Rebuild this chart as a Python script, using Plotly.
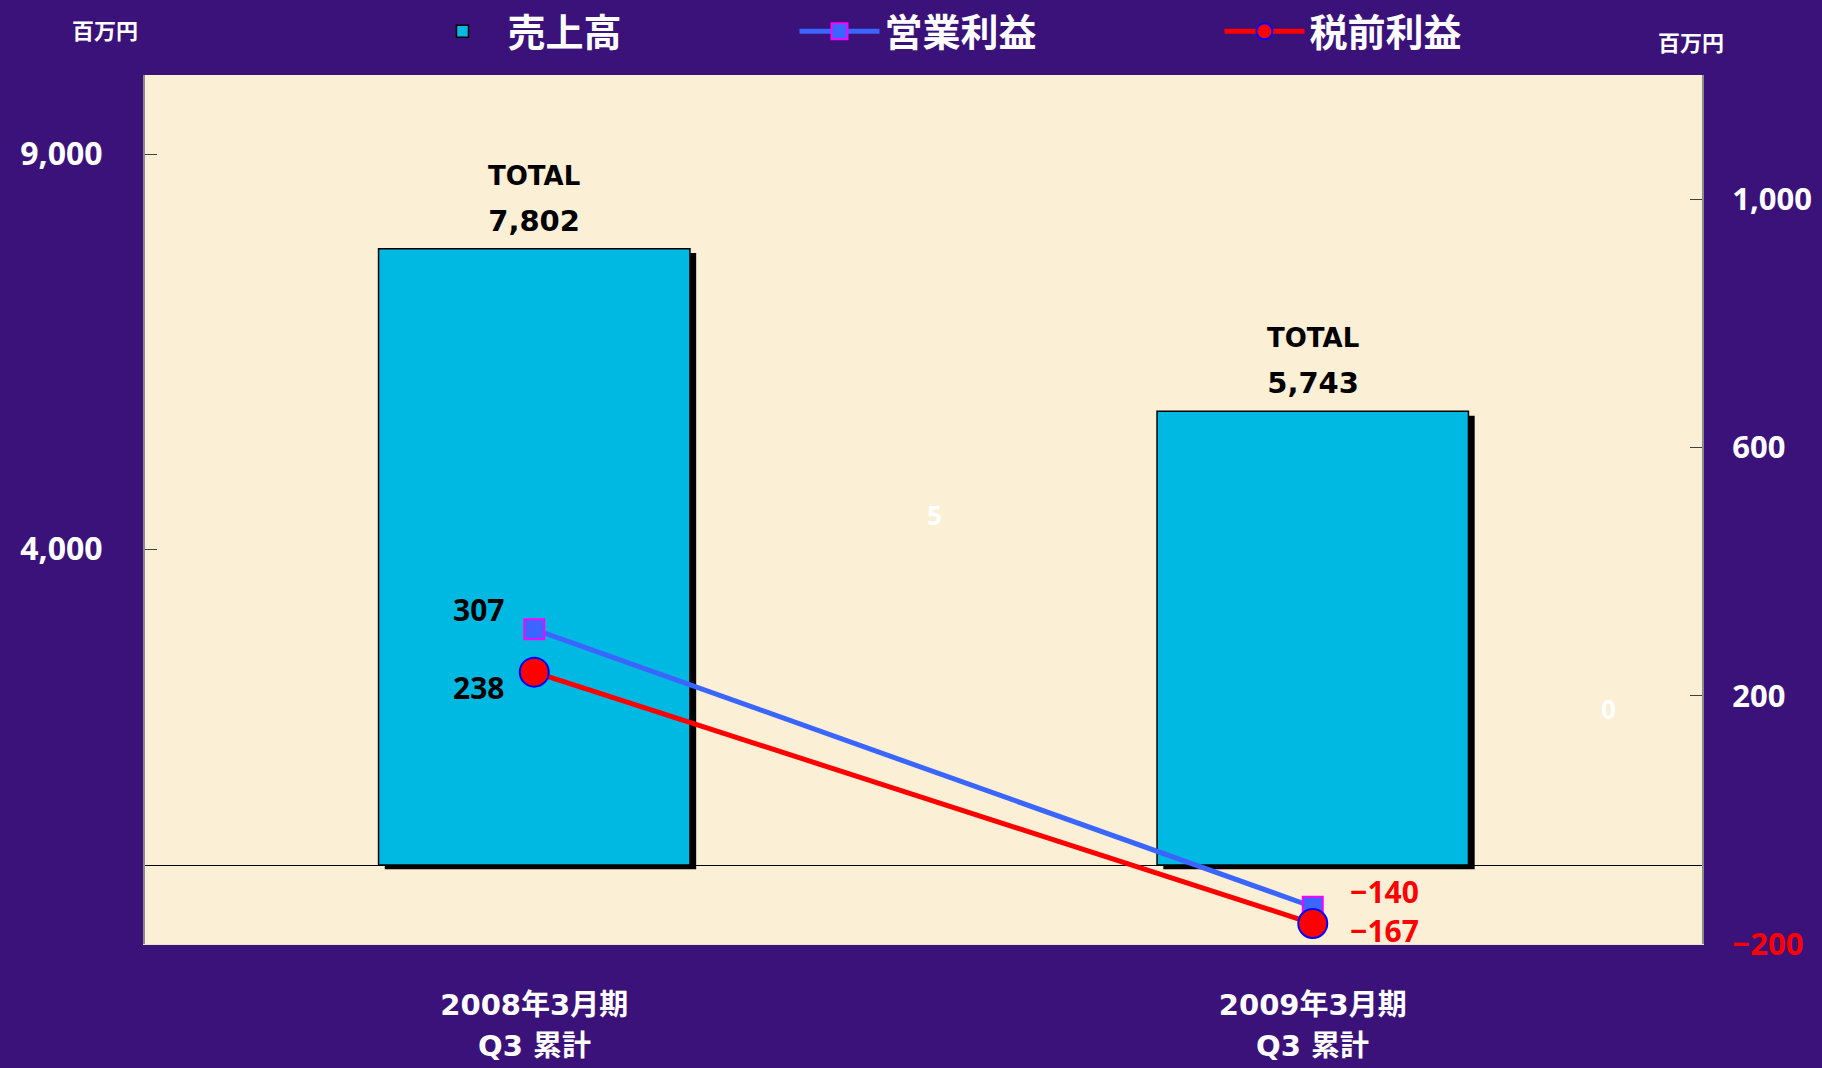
import plotly.graph_objects as go

categories = ["2008年3月期", "2009年3月期"]
sub_labels = ["Q3 累計", "Q3 累計"]
sales = [7802, 5743]
op_profit = [307, -140]
pretax_profit = [238, -167]
left_ticks = [4000, 9000]
right_ticks = [-200, 200, 600, 1000]

FONT = "Noto Sans CJK JP"
NUM_FONT = "Noto Sans"
WIDE_FONT = "DejaVu Sans, Noto Sans CJK JP"
BAR_W = 0.4


def fmt(v):
    s = f"{abs(v):,}"
    return ("−" + s) if v < 0 else s


fig = go.Figure()

# shadow behind bars
fig.add_trace(go.Bar(
    x=categories, y=sales, base=[-55] * len(sales), width=BAR_W, offset=-BAR_W / 2 + 0.008,
    marker=dict(color="black", line=dict(width=0)), showlegend=False, hoverinfo="skip",
))
# main bars
fig.add_trace(go.Bar(
    x=categories, y=sales, width=BAR_W, name="売上高", legendwidth=282,
    marker=dict(color="#00b9e3", line=dict(color="black", width=1.5)),
))

fig.add_trace(go.Scatter(
    x=categories, y=op_profit, yaxis="y2", name="営業利益", mode="lines+markers", legendwidth=330,
    line=dict(color="#3a66ff", width=5),
    marker=dict(symbol="square", size=20, color="#3a66ff", line=dict(color="#ff00ff", width=2)),
    cliponaxis=False,
))
fig.add_trace(go.Scatter(
    x=categories, y=pretax_profit, yaxis="y2", name="税前利益", mode="lines+markers", legendwidth=300,
    line=dict(color="#ff0000", width=5),
    marker=dict(symbol="circle", size=29, color="#ff0000", line=dict(color="#0000ff", width=2)),
    cliponaxis=False,
))

right_text = [(f"<span style='color:#ff0000'>{fmt(v)}</span>" if v < 0 else fmt(v)) for v in right_ticks]

annotations = []
# TOTAL labels above bars
for c, v in zip(categories, sales):
    annotations.append(dict(
        x=c, y=v, xref="x", yref="y", yanchor="bottom", yshift=9, showarrow=False,
        text=f"<span style='font-size:26px'>TOTAL</span><br><span style='font-size:29px'>{fmt(v)}</span>",
        font=dict(size=35, color="black", family="DejaVu Sans"),
    ))
# value labels for the profit lines
op_shift = [(-56, 20), (72, 15)]
pt_shift = [(-56, -15), (72, -7)]
for series, shifts in ((op_profit, op_shift), (pretax_profit, pt_shift)):
    for c, v, (dx, dy) in zip(categories, series, shifts):
        annotations.append(dict(
            x=c, y=v, xref="x", yref="y2", xshift=dx, yshift=dy, showarrow=False,
            xanchor="center", yanchor="middle", text=fmt(v),
            font=dict(size=30, color=("black" if v >= 0 else "red"), family=NUM_FONT),
        ))
# second line of the category labels
for c, s in zip(categories, sub_labels):
    annotations.append(dict(
        x=c, y=-0.1175, xref="x", yref="paper", xanchor="center", yanchor="middle",
        showarrow=False, text=s, font=dict(size=29, color="white", family=WIDE_FONT),
    ))
annotations += [
    dict(text="百万円", xref="paper", yref="paper", x=-0.0257, y=1.053, xanchor="center", yanchor="middle",
         showarrow=False, font=dict(size=22, color="white", family=FONT)),
    dict(text="百万円", xref="paper", yref="paper", x=0.993, y=1.039, xanchor="center", yanchor="middle",
         showarrow=False, font=dict(size=22, color="white", family=FONT)),
    dict(text="5", xref="paper", yref="paper", x=0.507, y=0.494, xanchor="center", yanchor="middle",
         showarrow=False, font=dict(size=26, color="white", family=NUM_FONT)),
    dict(text="0", xref="paper", yref="paper", x=0.94, y=0.270, xanchor="center", yanchor="middle",
         showarrow=False, font=dict(size=26, color="white", family=NUM_FONT)),
]

fig.update_layout(
    width=1822, height=1068,
    margin=dict(l=145, r=120, t=75, b=124, autoexpand=False),
    paper_bgcolor="#3b1279",
    plot_bgcolor="#fbefd6",
    barmode="overlay",
    font=dict(family=FONT, color="white", weight="bold"),
    showlegend=True,
    legend=dict(
        orientation="h", x=0.175, xanchor="left", y=1.05, yanchor="middle",
        font=dict(size=38, color="white", family=FONT), itemwidth=80,
        bgcolor="rgba(0,0,0,0)",
    ),
    xaxis=dict(
        type="category", range=[-0.5, 1.5], showgrid=False, zeroline=False,
        showline=True, linecolor="#e8e0d0", linewidth=1,
        tickfont=dict(size=29, color="white", family=WIDE_FONT), ticks="",
        ticklabelstandoff=35,
    ),
    yaxis=dict(
        range=[-1000, 10000], tickvals=left_ticks, ticktext=[fmt(v) for v in left_ticks],
        ticks="inside", ticklen=12, tickcolor="#404040", showgrid=False,
        showline=True, linecolor="#8a8a8a", linewidth=2,
        zeroline=True, zerolinecolor="black", zerolinewidth=1,
        tickfont=dict(size=32, color="white", family=NUM_FONT), ticklabelstandoff=34,
    ),
    yaxis2=dict(
        overlaying="y", side="right", range=[-200, 1200], tickvals=right_ticks, ticktext=right_text,
        ticks="inside", ticklen=12, tickcolor="#404040", showgrid=False, zeroline=False,
        showline=True, linecolor="#8a8a8a", linewidth=2,
        tickfont=dict(size=31, color="white", family=NUM_FONT), ticklabelstandoff=22,
    ),
    annotations=annotations,
)

fig.write_html("out.html", config={"displayModeBar": False},
               post_script="document.body.style.margin='0';document.body.style.overflow='hidden';")
